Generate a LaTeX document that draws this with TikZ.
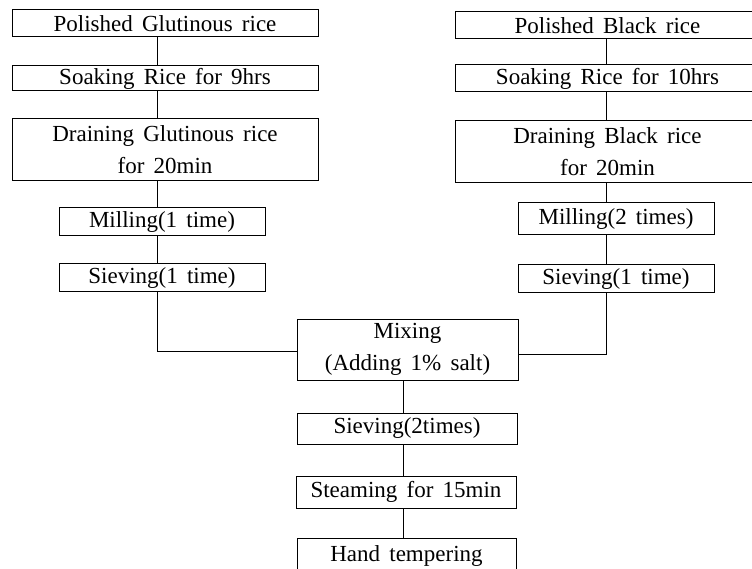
\documentclass[tikz,border=0pt]{standalone}
\usepackage{fontspec}
\setmainfont{Liberation Serif}[WordSpace=1.6]
\begin{document}
\begin{tikzpicture}[x=1pt,y=-1pt,
  box/.style={draw,line width=1pt,inner sep=0pt,font=\fontsize{23}{32}\selectfont,align=center},
  conn/.style={line width=0.9pt}]
\useasboundingbox (0,0) rectangle (752,569);
% left column
\node[box,minimum width=306pt,minimum height=27pt] (pg) at (165,23.5) {Polished Glutinous rice};
\node[box,minimum width=306pt,minimum height=25pt] (sg) at (165,78.5) {Soaking Rice for 9hrs};
\node[box,minimum width=306pt,minimum height=62pt] (dg) at (165,150) {Draining Glutinous rice\\for 20min};
\node[box,minimum width=206pt,minimum height=28pt] (mg) at (162,222) {Milling(1 time)};
\node[box,minimum width=206pt,minimum height=28pt] (vg) at (162,278) {Sieving(1 time)};
% right column
\node[box,minimum width=305pt,minimum height=27pt] (pb) at (607.5,25.5) {Polished Black rice};
\node[box,minimum width=305pt,minimum height=27pt] (sb) at (607.5,78.5) {Soaking Rice for 10hrs};
\node[box,minimum width=305pt,minimum height=62pt] (db) at (607.5,152) {Draining Black rice\\for 20min};
\node[box,minimum width=196pt,minimum height=32pt] (mb) at (616,219) {Milling(2 times)};
\node[box,minimum width=196pt,minimum height=28pt] (vb) at (616,279) {Sieving(1 time)};
% centre column
\node[box,minimum width=221pt,minimum height=61pt] (mix) at (407.5,349.5) {Mixing\\(Adding 1\% salt)};
\node[box,minimum width=220pt,minimum height=31pt] (s2) at (407,428.5) {Sieving(2times)};
\node[box,minimum width=220pt,minimum height=32pt] (st) at (406,492) {Steaming for 15min};
\node[box,minimum width=219pt,minimum height=36pt] (ht) at (406.5,556) {Hand tempering};
% connector guides
\coordinate (lx) at (157,0);
\coordinate (rx) at (606,0);
\coordinate (cx) at (403,0);
% left connectors
\draw[conn] (pg.south -| lx) -- (sg.north -| lx);
\draw[conn] (sg.south -| lx) -- (dg.north -| lx);
\draw[conn] (dg.south -| lx) -- (mg.north -| lx);
\draw[conn] (mg.south -| lx) -- (vg.north -| lx);
\draw[conn] (vg.south -| lx) |- ([yshift=-1.5pt]mix.west);
% right connectors
\draw[conn] (pb.south -| rx) -- (sb.north -| rx);
\draw[conn] (sb.south -| rx) -- (db.north -| rx);
\draw[conn] (db.south -| rx) -- (mb.north -| rx);
\draw[conn] (mb.south -| rx) -- (vb.north -| rx);
\draw[conn] (vb.south -| rx) |- ([yshift=-4.5pt]mix.east);
% centre connectors
\draw[conn] (mix.south -| cx) -- (s2.north -| cx);
\draw[conn] (s2.south -| cx) -- (st.north -| cx);
\draw[conn] (st.south -| cx) -- (ht.north -| cx);
\end{tikzpicture}
\end{document}
